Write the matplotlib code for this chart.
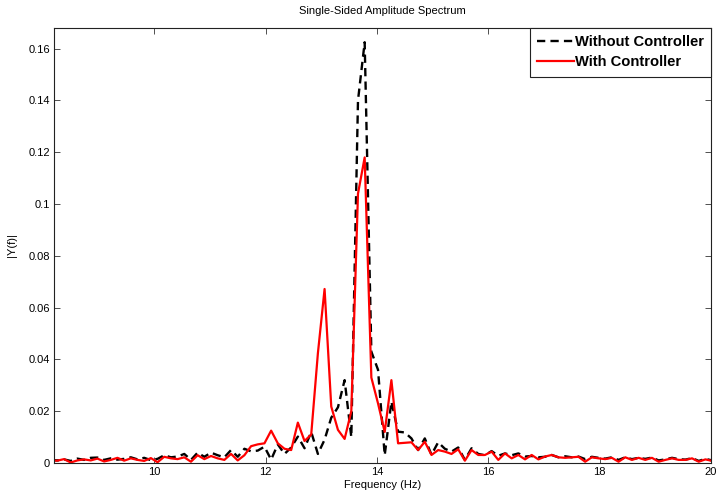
import numpy as np
import matplotlib.pyplot as plt

plt.rcParams["font.family"] = ["Liberation Sans", "DejaVu Sans"]

# frequency grid (Hz), 100 bins spaced 0.12 Hz
freq = np.round(8.14 + 0.12 * np.arange(100), 2)

without_ctrl = [
    0.0012, 0.0010, 0.0014, 0.0008, 0.0017, 0.0012, 0.0020, 0.0021, 0.0012, 0.0018,
    0.0013, 0.0016, 0.0022, 0.0014, 0.0020, 0.0011, 0.0016, 0.0030, 0.0022, 0.0025,
    0.0035, 0.0012, 0.0040, 0.0024, 0.0040, 0.0030, 0.0022, 0.0050, 0.0024, 0.0055,
    0.0045, 0.0048, 0.0063, 0.0013, 0.0072, 0.0035, 0.0060, 0.0102, 0.0057, 0.0120,
    0.0035, 0.0090, 0.0175, 0.0215, 0.0320, 0.0100, 0.1400, 0.1625, 0.0430, 0.0360,
    0.0030, 0.0237, 0.0121, 0.0118, 0.0095, 0.0050, 0.0095, 0.0032, 0.0080, 0.0055,
    0.0044, 0.0060, 0.0012, 0.0057, 0.0035, 0.0030, 0.0046, 0.0028, 0.0037, 0.0030,
    0.0037, 0.0025, 0.0027, 0.0022, 0.0024, 0.0031, 0.0022, 0.0026, 0.0022, 0.0025,
    0.0015, 0.0024, 0.0020, 0.0017, 0.0022, 0.0012, 0.0022, 0.0015, 0.0020, 0.0016,
    0.0021, 0.0010, 0.0014, 0.0020, 0.0015, 0.0013, 0.0019, 0.0008, 0.0016, 0.0010,
]

with_ctrl = [
    0.0010, 0.0009, 0.0015, 0.0002, 0.0010, 0.0014, 0.0010, 0.0017, 0.0006, 0.0012,
    0.0020, 0.0009, 0.0018, 0.0012, 0.0008, 0.0019, 0.0003, 0.0024, 0.0018, 0.0015,
    0.0022, 0.0005, 0.0030, 0.0015, 0.0027, 0.0018, 0.0012, 0.0035, 0.0010, 0.0030,
    0.0065, 0.0072, 0.0076, 0.0125, 0.0076, 0.0055, 0.0050, 0.0156, 0.0085, 0.0110,
    0.0424, 0.0672, 0.0218, 0.0128, 0.0093, 0.0200, 0.1040, 0.1180, 0.0330, 0.0230,
    0.0120, 0.0320, 0.0076, 0.0078, 0.0080, 0.0050, 0.0082, 0.0031, 0.0050, 0.0044,
    0.0035, 0.0053, 0.0009, 0.0050, 0.0031, 0.0031, 0.0044, 0.0012, 0.0037, 0.0018,
    0.0031, 0.0014, 0.0031, 0.0014, 0.0025, 0.0031, 0.0022, 0.0020, 0.0022, 0.0024,
    0.0005, 0.0022, 0.0018, 0.0015, 0.0020, 0.0005, 0.0022, 0.0012, 0.0020, 0.0012,
    0.0020, 0.0005, 0.0012, 0.0018, 0.0012, 0.0012, 0.0018, 0.0005, 0.0014, 0.0008,
]

xticks = [10, 12, 14, 16, 18, 20]
yticks = [0, 0.02, 0.04, 0.06, 0.08, 0.1, 0.12, 0.14, 0.16]
ytick_labels = ["0", "0.02", "0.04", "0.06", "0.08", "0.1", "0.12", "0.14", "0.16"]

fig = plt.figure(figsize=(7.17, 4.97), dpi=100)
ax = fig.add_axes([0.0753, 0.0684, 0.9163, 0.8753])

ax.plot(freq, without_ctrl, color="black", linestyle=(0, (3.5, 2.2)), linewidth=1.7,
        label="Without Controller")
ax.plot(freq, with_ctrl, color="#ff0000", linewidth=1.6, label="With Controller")

ax.set_xlim(8.2, 20)
ax.set_ylim(0, 0.168)
ax.set_xticks(xticks)
ax.set_yticks(yticks)
ax.set_yticklabels(ytick_labels)
ax.tick_params(direction="in", top=True, right=True, labelsize=8, length=4,
               width=0.6, color="#333333", pad=3)
for s in ax.spines.values():
    s.set_linewidth(0.8)
    s.set_color("#222222")

ax.set_title("Single-Sided Amplitude Spectrum", fontsize=8, pad=10)
ax.set_xlabel("Frequency (Hz)", fontsize=8, labelpad=2)
ax.set_ylabel("|Y(f)|", fontsize=8, labelpad=8)

leg = ax.legend(loc="upper right", prop={"weight": "bold", "size": 10.6},
                handlelength=2.5, handletextpad=0.05, borderaxespad=0,
                fancybox=False, framealpha=1, borderpad=0.5, labelspacing=0.4)
leg.get_frame().set_edgecolor("#222222")
leg.get_frame().set_linewidth(0.8)

fig.savefig("out.png", dpi=100)
